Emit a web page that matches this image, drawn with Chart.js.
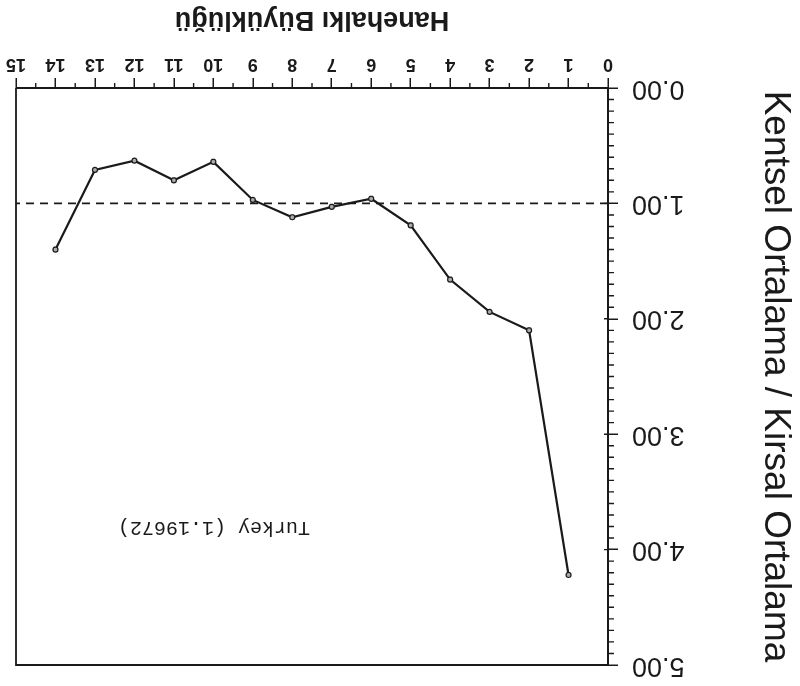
<!DOCTYPE html>
<html>
<head>
<meta charset="utf-8">
<script src="https://cdn.jsdelivr.net/npm/chart.js@4.4.1/dist/chart.umd.min.js"></script>
<style>
  html, body { margin: 0; padding: 0; background: #fff; }
  #wrap { width: 800px; height: 686px; transform: rotate(180deg); transform-origin: 50% 50%; }
  canvas { display: block; }
</style>
</head>
<body>
<div id="wrap"><canvas id="c" width="800" height="686"></canvas></div>
<script>
// ---- data ----
const householdSize = [1, 2, 3, 4, 5, 6, 7, 8, 9, 10, 11, 12, 13, 14];
const urbanRuralRatio = [4.22, 2.10, 1.94, 1.66, 1.19, 0.96, 1.03, 1.12, 0.97, 0.64, 0.80, 0.63, 0.71, 1.40];
const referenceLevel = 1.0;
const xTickValues = [0, 1, 2, 3, 4, 5, 6, 7, 8, 9, 10, 11, 12, 13, 14, 15];
const yTickValues = [0, 1, 2, 3, 4, 5];
const xAxisTitle = 'Hanehalkı Büyüklüğü';
const yAxisTitle = 'Kentsel Ortalama / Kirsal Ortalama';
const noteText = 'Turkey (1.19672)';
const notePosition = [7.55, 3.81];

const ink = '#1a1a1a';

const seriesPoints = householdSize.map((s, i) => ({ x: s, y: urbanRuralRatio[i] }));
const refPoints = [
  { x: xTickValues[0], y: referenceLevel },
  { x: xTickValues[xTickValues.length - 1], y: referenceLevel }
];

const extrasPlugin = {
  id: 'extras',
  afterDraw(chart) {
    const { ctx, chartArea: a, scales } = chart;
    const xs = scales.x, ys = scales.y;
    ctx.save();
    ctx.strokeStyle = ink;
    ctx.lineWidth = 1.8;
    // frame (top and right sides)
    ctx.beginPath();
    ctx.moveTo(a.left, a.top);
    ctx.lineTo(a.right, a.top);
    ctx.lineTo(a.right, a.bottom);
    ctx.stroke();
    // minor ticks
    ctx.lineWidth = 1.4;
    ctx.beginPath();
    for (let i = 0; i < xTickValues.length - 1; i++) {
      const px = xs.getPixelForValue(xTickValues[i] + 0.5);
      ctx.moveTo(px, a.bottom);
      ctx.lineTo(px, a.bottom + 5);
    }
    for (let i = 0; i < yTickValues.length - 1; i++) {
      for (let k = 1; k < 10; k++) {
        const py = ys.getPixelForValue(yTickValues[i] + k / 10);
        ctx.moveTo(a.left, py);
        ctx.lineTo(a.left - 6, py);
      }
    }
    // major ticks cross slightly into the plot
    for (const v of yTickValues) {
      const py = ys.getPixelForValue(v);
      ctx.moveTo(a.left, py);
      ctx.lineTo(a.left + 4, py);
    }
    ctx.stroke();
    // note text
    ctx.fillStyle = ink;
    ctx.font = '20px "Liberation Mono", "DejaVu Sans Mono", monospace';
    ctx.textAlign = 'left';
    ctx.textBaseline = 'middle';
    ctx.fillText(noteText, xs.getPixelForValue(notePosition[0]), ys.getPixelForValue(notePosition[1]));
    ctx.restore();
  }
};

new Chart(document.getElementById('c'), {
  type: 'line',
  data: {
    datasets: [
      {
        data: seriesPoints,
        borderColor: ink,
        borderWidth: 2.2,
        pointRadius: 2.5,
        pointBackgroundColor: '#aaa',
        pointBorderColor: ink,
        pointBorderWidth: 1.2,
        tension: 0,
        fill: false
      },
      {
        data: refPoints,
        borderColor: ink,
        borderWidth: 1.8,
        borderDash: [8, 6],
        pointRadius: 0,
        fill: false
      }
    ]
  },
  options: {
    responsive: false,
    animation: false,
    devicePixelRatio: 1,
    layout: { padding: { left: 0, right: 16, top: 21, bottom: 0 } },
    plugins: { legend: { display: false }, tooltip: { enabled: false } },
    scales: {
      x: {
        type: 'linear',
        position: 'bottom',
        min: xTickValues[0],
        max: xTickValues[xTickValues.length - 1],
        afterBuildTicks(scale) { scale.ticks = xTickValues.map(v => ({ value: v })); },
        afterFit(scale) { scale.height = 88; },
        grid: { drawOnChartArea: false, drawTicks: true, tickLength: 10, color: ink, lineWidth: 1.5 },
        border: { display: true, color: ink, width: 2 },
        ticks: {
          color: ink,
          padding: 3,
          maxRotation: 0,
          autoSkip: false,
          font: { family: '"Liberation Sans", Arial, sans-serif', size: 18, weight: 'bold' },
          callback: v => String(v)
        },
        title: {
          display: true,
          text: xAxisTitle,
          color: ink,
          font: { family: '"Liberation Sans", Arial, sans-serif', size: 27, weight: 'bold' },
          padding: { top: 0, bottom: 3 }
        }
      },
      y: {
        type: 'linear',
        position: 'left',
        min: yTickValues[0],
        max: yTickValues[yTickValues.length - 1],
        afterBuildTicks(scale) { scale.ticks = yTickValues.map(v => ({ value: v })); },
        afterFit(scale) { scale.width = 192; scale.paddingTop = 0; scale.paddingBottom = 0; },
        grid: { drawOnChartArea: false, drawTicks: true, tickLength: 10, color: ink, lineWidth: 1.5 },
        border: { display: true, color: ink, width: 2 },
        ticks: {
          color: ink,
          padding: 14,
          font: { family: '"Liberation Sans", Arial, sans-serif', size: 27 },
          callback: v => Number(v).toFixed(2)
        },
        title: {
          display: true,
          text: yAxisTitle,
          color: ink,
          font: { family: '"Liberation Sans", Arial, sans-serif', size: 37 },
          padding: { top: 3, bottom: 0 }
        }
      }
    }
  },
  plugins: [extrasPlugin]
});
</script>
</body>
</html>
